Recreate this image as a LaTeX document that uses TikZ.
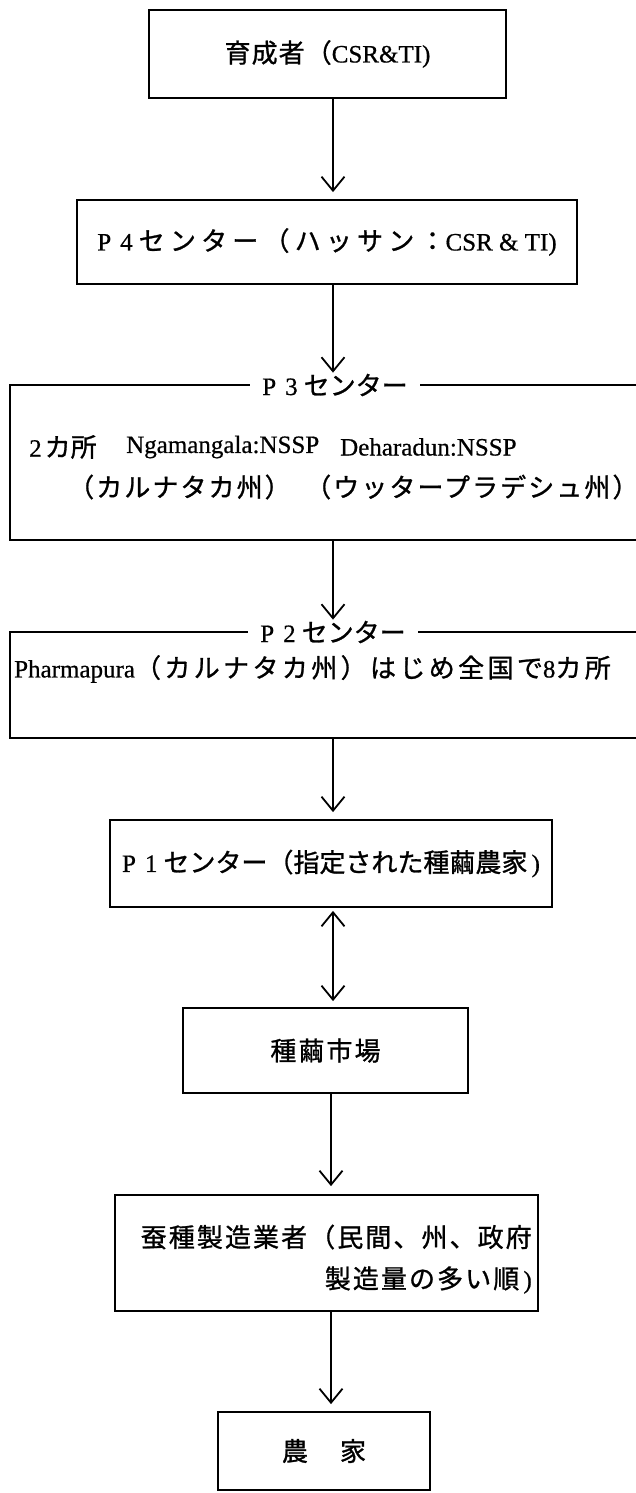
\documentclass[tikz,border=0pt]{standalone}
\usepackage{fontspec}
\setmainfont{Liberation Serif}[FakeBold=0.6]
\newfontfamily\jp{Noto Sans CJK JP}[FakeBold=1.0]
\usetikzlibrary{arrows.meta}
\newcommand{\J}[2][0]{{\jp\fontsize{26}{30}\selectfont\addfontfeature{LetterSpace=#1}#2}}
\begin{document}
\begin{tikzpicture}[x=1pt,y=1pt,
  every node/.style={inner sep=0pt, font=\fontsize{25}{29}\selectfont},
  box/.style={draw, line width=1.8pt},
  title/.style={fill=white, inner xsep=12pt, inner ysep=1pt},
  edge/.style={line width=1.8pt},
  arr/.style={line width=1.8pt, -{Straight Barb[length=14pt,width=23pt]}},
  darr/.style={line width=1.8pt, {Straight Barb[length=14pt,width=23pt]}-{Straight Barb[length=14pt,width=23pt]}}
]
\useasboundingbox (0,0) rectangle (636,-1493);
\fill[white] (0,0) rectangle (636,-1493);
\coordinate (ax) at (333,0);
\coordinate (bx) at (331,0);

% breeder
\node[box, minimum width=357pt, minimum height=88pt] (breed) at (327.5,-54) {\J[4]{育成者（}CSR\&TI)};

% P4
\node[box, minimum width=500pt, minimum height=84pt] (p4) at (327,-242) {P\hspace{9pt}4\hspace{6pt}\J[20]{センター（ハッサン：}CSR \& TI)};
\draw[arr, shorten >=7pt] (breed.south -| ax) -- (p4.north -| ax);

% P3
\node[minimum width=626pt, minimum height=155pt] (p3) at (323,-462.5) {};
\draw[edge] (p3.north east) -- (p3.north west) -- (p3.south west) -- (p3.south east);
\node[title] (p3t) at (335,-385) {P\hspace{9pt}3\hspace{6pt}\J{センター}};
\node[anchor=west] (p3a) at (29,-447) {2\hspace{3pt}\J{カ所}};
\node[anchor=west] (p3b) at (126,-447) {Ngamangala:NSSP};
\node[anchor=west] (p3c) at (340,-447) {Deharadun:NSSP};
\node[anchor=west] (p3d) at (68,-487) {\J[8]{（カルナタカ州）}};
\node[anchor=west] (p3e) at (305,-487) {\J[8]{（ウッタープラデシュ州）}};
\draw[arr] (p4.south -| ax) -- (p3t.north -| ax);

% P2
\node[minimum width=626pt, minimum height=106pt] (p2) at (323,-685) {};
\draw[edge] (p2.north east) -- (p2.north west) -- (p2.south west) -- (p2.south east);
\node[title] (p2t) at (333,-632) {P\hspace{9pt}2\hspace{6pt}\J{センター}};
\node[anchor=west] (p2a) at (14,-669) {Pharmapura\J[13]{（カルナタカ州）はじめ全国で}8\J[13]{カ所}};
\draw[arr] (p3.south -| ax) -- (p2t.north -| ax);

% P1
\node[box, minimum width=442pt, minimum height=87pt] (p1) at (331,-863.5) {P\hspace{9pt}1\hspace{6pt}\J{センター（指定された種繭農家}\,)};
\draw[arr, shorten >=7pt] (p2.south -| ax) -- (p1.north -| ax);

% seed cocoon market
\node[box, minimum width=285pt, minimum height=85pt] (mkt) at (325.5,-1050.5) {\J[8]{種繭市場}};
\draw[darr, shorten <=3pt, shorten >=6pt] (p1.south -| ax) -- (mkt.north -| ax);

% egg producers
\node[box, minimum width=423pt, minimum height=116pt] (egg) at (326.5,-1253) {};
\node[anchor=east] (egg1) at (532,-1237) {\J[8]{蚕種製造業者（民間、州、政府}};
\node[anchor=east] (egg2) at (532,-1280) {\J[8]{製造量の多い順}\,)};
\draw[arr, shorten >=8pt] (mkt.south -| bx) -- (egg.north -| bx);

% farmers
\node[box, minimum width=212pt, minimum height=78pt] (farm) at (324,-1451) {\J{農}\hspace{32pt}\J{家}};
\draw[arr, shorten >=7pt] (egg.south -| bx) -- (farm.north -| bx);
\end{tikzpicture}
\end{document}
